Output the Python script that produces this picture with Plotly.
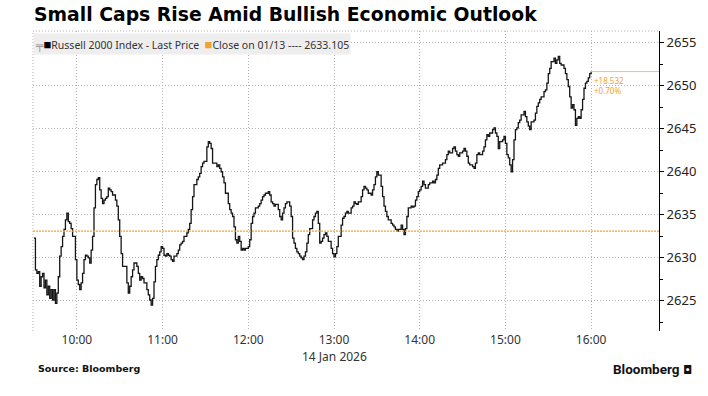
import plotly.graph_objects as go
import pandas as pd

# ---- data ----
session_date = "2026-01-14"
open_time = "09:30"
minutes_since_open = [
    0,1,2,3,4,5,6,7,8,9,10,11,12,13,14,15,16,17,18,19,20,21,22,23,24,25,26,27,29,30,
    31,32,33,34,35,36,37,38,39,40,41,42,43,44,45,46,47,48,49,50,51,52,53,54,55,57,58,59,60,61,62,
    65,66,67,68,69,70,72,73,74,75,76,77,79,80,81,82,83,84,85,86,87,88,89,90,91,92,93,94,95,96,97,98,
    100,101,102,103,104,105,107,108,109,110,111,112,114,115,116,117,118,119,121,122,123,124,125,126,
    128,129,130,131,132,
    133,134,136,137,138,139,140,141,142,143,144,145,146,147,148,150,151,152,153,154,
    155,157,158,159,160,161,162,164,165,166,167,168,169,171,172,173,174,175,176,177,
    179,180,181,182,183,184,185,186,187,188,189,190,191,192,193,195,196,197,
    198,199,200,201,202,203,204,205,206,208,209,210,211,212,213,215,216,217,218,219,
    220,222,223,224,225,226,227,229,230,231,232,233,234,236,237,238,239,240,241,243,
    244,245,246,247,248,250,251,252,253,254,255,257,258,259,260,261,262,264,265,266,
    267,268,269,270,271,272,273,274,276,277,279,280,281,282,283,284,286,287,288,289,
    290,291,293,294,295,296,297,298,300,301,302,303,304,305,307,308,309,310,311,312,
    314,315,316,317,318,319,321,322,323,324,325,326,
    328,329,330,331,332,333,334,335,336,337,338,339,340,341,343,344,345,346,347,348,
    350,351,352,353,354,355,357,358,359,360,361,362,364,365,366,367,368,369,371,372,
    373,374,375,376,377,378,379,380,381,382,383,384,385,386,387,388,389,390,
]
last_price = [
    2632.3,2628.6,2628.2,2628.4,2626.7,2627.8,2628.2,2626.5,2627.4,2625.7,2626.7,2625.3,2626.3,2625.1,2626.3,
    2624.7,2625.9,2627.8,2630.2,2631.3,2632.5,2633.3,2634.4,2635.2,2634.2,2634.0,2633.4,2632.5,2629.8,2627.4,
    2626.9,2626.3,2627.1,2628.2,2629.8,2630.3,2630.2,2630.0,2629.4,2630.9,2632.5,2635.8,2638.5,2639.1,2639.3,
    2637.9,2636.9,2636.3,2636.7,2636.9,2637.1,2638.1,2637.9,2637.7,2637.3,2636.7,2636.0,2634.4,2632.5,2630.5,2629.0,
    2627.1,2625.9,2626.7,2627.8,2628.6,2629.4,2629.0,2628.2,2627.4,2627.8,2627.6,2627.1,2626.3,2625.7,2625.1,
    2624.5,2625.3,2627.2,2629.0,2629.8,2630.3,2630.7,2631.3,2631.1,2630.3,2630.2,2630.5,2630.3,2630.2,2629.8,
    2629.6,2630.2,2630.5,2630.9,2631.5,2631.7,2631.9,2632.5,2632.9,2633.3,2634.0,2635.6,2637.1,2638.5,2639.1,
    2639.4,2639.8,2640.6,2641.0,2641.2,2642.9,2643.5,2643.3,2642.7,2641.0,2641.0,2640.6,2640.8,2640.4,2640.0,2639.4,
    2638.7,2637.5,2636.3,2635.6,2635.2,2634.8,2633.6,2632.1,2631.7,2632.5,2631.9,2630.9,2631.1,2630.9,2631.1,
    2631.3,2632.1,2634.0,2634.8,2635.2,2635.8,2636.0,2636.3,2636.7,2637.1,2637.3,2637.5,2637.7,2637.3,2636.5,
    2636.3,2636.0,2636.2,2635.6,2634.8,2634.4,2635.2,2635.8,2636.3,2636.5,2636.0,2634.8,2632.3,2631.7,2631.1,
    2630.7,2630.5,2630.2,2630.0,2629.8,2630.2,2630.7,2631.7,2632.7,2633.4,2634.4,2634.8,2635.2,
    2635.4,2634.0,2631.7,2631.9,2632.3,2632.7,2632.9,2632.5,2631.9,2631.1,2630.5,2630.1,2630.5,2631.3,2632.5,
    2633.8,2634.6,2634.8,2635.2,2635.4,2635.2,2635.8,2636.0,2636.5,2636.3,2636.2,2636.5,2637.1,2637.9,2638.3,
    2638.1,2637.9,2637.5,2637.3,2637.9,2638.5,2639.4,2640.0,2639.6,2638.3,2637.1,2636.0,2635.4,2634.8,2634.4,
    2634.0,2633.8,2633.6,2633.3,2633.1,2633.3,2633.8,2633.3,2632.7,2633.4,2634.8,2635.8,2636.0,2635.9,2636.0,
    2636.7,2637.1,2637.7,2637.9,2638.3,2638.9,2638.5,2638.1,2638.5,2638.7,2638.9,2638.7,2639.1,2639.6,2640.4,
    2640.8,2641.0,2641.0,2641.4,2642.0,2642.4,2642.2,2642.7,2642.9,2642.4,2642.0,2641.8,2642.2,2642.4,2642.7,
    2642.4,2641.8,2641.0,2640.8,2640.6,2640.4,2641.0,2642.0,2642.2,2642.0,2642.4,2642.9,2643.7,2644.3,2644.1,
    2644.5,2644.9,2645.1,2644.5,2644.1,2642.7,2643.5,
    2643.7,2644.1,2643.3,2642.0,2641.6,2640.8,2640.0,2641.4,2643.7,2644.9,2645.1,2645.7,2646.0,2646.6,2647.0,
    2646.4,2645.8,2645.3,2644.9,2645.8,2646.0,2646.8,2647.6,2648.0,2648.4,2648.7,2649.3,2649.5,2650.3,2651.4,
    2652.0,2652.8,2653.2,2652.6,2653.0,2653.4,2652.6,2652.4,2652.0,2651.4,2650.7,2649.9,2648.7,2647.4,2647.8,
    2647.2,2645.4,2646.2,2646.4,2646.2,2647.2,2648.4,2649.7,2650.3,2650.5,2650.9,2651.4,2651.637,
]
prev_close = 2633.105
prev_close_label = "Close on 01/13"
x_tick_labels = ["10:00", "11:00", "12:00", "13:00", "14:00", "15:00", "16:00"]
y_tick_values = [2625, 2630, 2635, 2640, 2645, 2650, 2655]

assert len(minutes_since_open) == len(last_price)

# ---- build ----
base = pd.Timestamp(f"{session_date} {open_time}")
times = [base + pd.Timedelta(minutes=m) for m in minutes_since_open]
tick_vals = [pd.Timestamp(f"{session_date} {t}") for t in x_tick_labels]
x_range = [pd.Timestamp(f"{session_date} 09:29:18"), pd.Timestamp(f"{session_date} 16:47:30")]
y_range = [2621.5, 2656.35]

change = last_price[-1] - prev_close
pct = change / prev_close * 100

ORANGE = "#f3a133"
GRID = "#b3b3b3"
GRID_DASH = "1px,2px"

fig = go.Figure()
fig.add_trace(go.Scatter(
    x=times, y=last_price, mode="lines",
    line=dict(color="#151515", width=1.3, shape="hv"),
    hoverinfo="skip", showlegend=False,
))
# last-price marker line to the axis
fig.add_trace(go.Scatter(
    x=[times[-1], x_range[1]], y=[last_price[-1], last_price[-1]], mode="lines",
    line=dict(color="#f7c16c", width=1), hoverinfo="skip", showlegend=False,
))

# previous close dotted line
fig.add_shape(type="line", xref="paper", x0=0, x1=1, yref="y", y0=prev_close, y1=prev_close,
              line=dict(color=ORANGE, width=1.2, dash="2px,1px"))
# left and top dotted borders
fig.add_shape(type="line", xref="paper", x0=0, x1=0, yref="paper", y0=0, y1=1,
              line=dict(color=GRID, width=1, dash=GRID_DASH))
fig.add_shape(type="line", xref="paper", x0=0, x1=1, yref="paper", y0=1, y1=1,
              line=dict(color=GRID, width=1, dash=GRID_DASH))

fig.add_annotation(
    x=times[-1], y=last_price[-1], xref="x", yref="y", xanchor="left", yanchor="top",
    text=f"{change:+.3f}<br>{pct:+.2f}%", showarrow=False, align="left",
    font=dict(family="Noto Sans", size=8, color=ORANGE), xshift=1, yshift=-1,
)

# legend box
legend_text = (
    '<span style="color:#8a8a8a">╤</span>'
    '<span style="color:#000000;font-size:13px">■</span>Russell 2000 Index - Last Price  '
    f'<span style="color:{ORANGE};font-size:13px">■</span>{prev_close_label} ---- {prev_close:.3f}'
)
fig.add_annotation(
    xref="paper", yref="paper", x=0, y=1, xanchor="left", yanchor="top",
    text=legend_text, showarrow=False, bgcolor="#eeeeee", borderpad=1,
    font=dict(family="Noto Sans", size=10.5, color="#333333"), yshift=-2,
)

# date under the axis
fig.add_annotation(
    x=tick_vals[3], y=0, xref="x", yref="paper", yanchor="top", yshift=-15,
    text="14 Jan 2026", showarrow=False,
    font=dict(family="Noto Sans", size=12, color="#333333"),
)

# title
fig.add_annotation(
    xref="paper", yref="paper", x=-0.001, y=1, xanchor="left", yanchor="bottom", yshift=4,
    text="<b>Small Caps Rise Amid Bullish Economic Outlook</b>", showarrow=False,
    font=dict(family="DejaVu Sans", size=18.8, color="#000000"),
)
# footer
fig.add_annotation(
    xref="paper", yref="paper", x=0.004, y=0, xanchor="left", yanchor="top", yshift=-30,
    text="<b>Source: Bloomberg</b>", showarrow=False,
    font=dict(family="DejaVu Sans", size=9.5, color="#111111"),
)
fig.add_annotation(
    xref="paper", yref="paper", x=1.037, y=0, xanchor="right", yanchor="top", yshift=-28,
    text="<b>Bloomberg</b>", showarrow=False,
    font=dict(family="Roboto", size=13.5, color="#111111"),
)
fig.add_annotation(
    xref="paper", yref="paper", x=1.058, y=0, xanchor="right", yanchor="top", yshift=-30,
    text="◘", showarrow=False,
    font=dict(family="DejaVu Sans", size=12, color="#111111"),
)

fig.update_layout(
    width=708, height=396,
    margin=dict(l=33, r=47, t=31, b=65),
    paper_bgcolor="white", plot_bgcolor="white",
    showlegend=False,
    xaxis=dict(
        type="date", range=x_range, tickmode="array", tickvals=tick_vals, ticktext=x_tick_labels,
        showgrid=True, gridcolor=GRID, griddash=GRID_DASH, gridwidth=1,
        showline=False, zeroline=False, ticks="",
        tickfont=dict(family="Noto Sans", size=12, color="#333333"),
    ),
    yaxis=dict(
        side="right", range=y_range, tickmode="array", tickvals=y_tick_values,
        showgrid=True, gridcolor=GRID, griddash=GRID_DASH, gridwidth=1,
        showline=True, linecolor="#000000", linewidth=1, zeroline=False,
        ticks="outside", ticklen=4, tickcolor="#000000", tickwidth=1,
        minor=dict(dtick=2.5, tick0=2622.5, ticks="outside", ticklen=3, tickcolor="#000000", showgrid=False),
        tickfont=dict(family="Noto Sans", size=13, color="#222222"),
    ),
)

fig.write_html("out.html", config={"displayModeBar": False},
               post_script="document.body.style.margin='0';")
